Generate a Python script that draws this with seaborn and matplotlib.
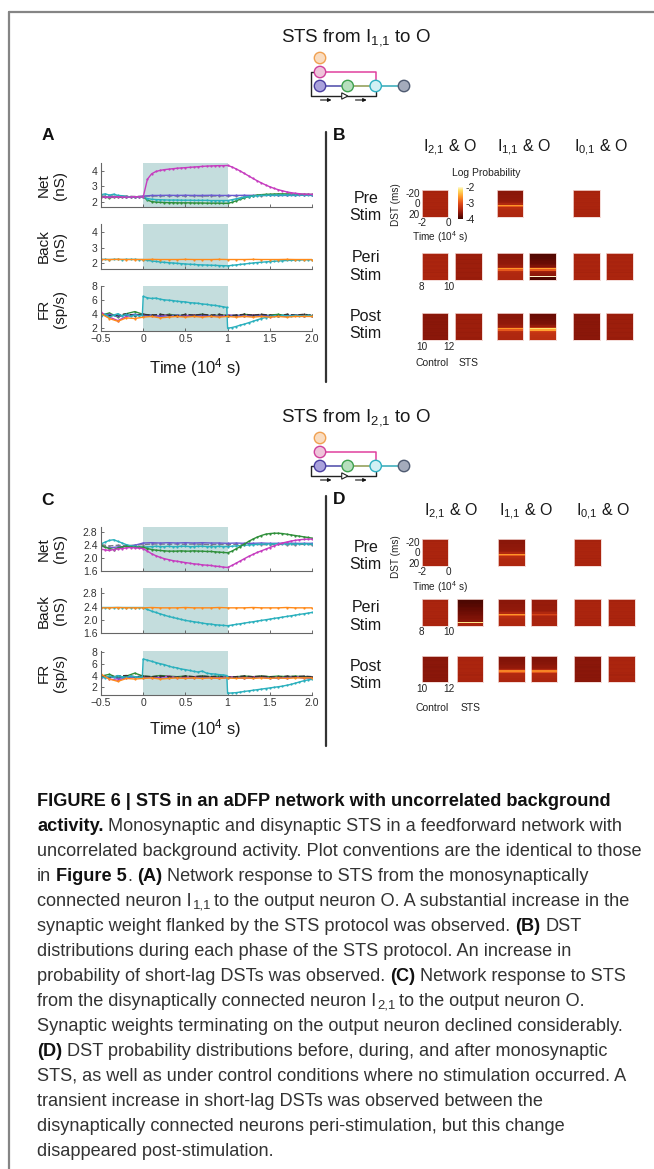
import numpy as np
import matplotlib
matplotlib.use("Agg")
import matplotlib.pyplot as plt
import seaborn as sns
from matplotlib import font_manager as fm
from matplotlib.colors import LinearSegmentedColormap, Normalize
from matplotlib.cm import ScalarMappable
from matplotlib.patches import Circle, Polygon
from matplotlib.lines import Line2D

sns.set_theme(style="white")
plt.rcParams["font.family"] = ["Liberation Sans", "DejaVu Sans"]
plt.rcParams["mathtext.fontset"] = "custom"
plt.rcParams["mathtext.rm"] = "Liberation Sans"
plt.rcParams["mathtext.it"] = "Liberation Sans:italic"
plt.rcParams["mathtext.bf"] = "Liberation Sans:bold"
_names = {f.name for f in fm.fontManager.ttflist}
CAP_FONT = "Liberation Sans Narrow" if "Liberation Sans Narrow" in _names else "Liberation Sans"

# ------------------------------------------------------------------ data
T_FINE = [round(-0.5 + 0.05 * i, 2) for i in range(51)]
T_COARSE = [round(-0.5 + 0.1 * i, 2) for i in range(26)]
T_JUMP = sorted(T_FINE + [-0.01, 0.99])
STIM_ON, STIM_OFF = 0.0, 1.0
XTICKS = [-0.5, 0, 0.5, 1, 1.5, 2.0]
XTICKLABELS = ["\u22120.5", "0", "0.5", "1", "1.5", "2.0"]

# ---- Panel A (STS from I1,1 to O)
A_NET_MAGENTA = [2.28, 2.3, 2.27, 2.3, 2.32, 2.3, 2.28, 2.3, 2.32, 2.31,
                 2.3,
                 3.45, 3.8, 3.95, 4.02, 4.07, 4.1, 4.13, 4.16, 4.18, 4.2,
                 4.22, 4.24, 4.26, 4.28, 4.3, 4.31, 4.32, 4.33, 4.33, 4.34,
                 4.25, 4.12, 3.98, 3.82, 3.66, 3.5, 3.35, 3.21, 3.08, 2.96,
                 2.86, 2.77, 2.7, 2.63, 2.58, 2.54, 2.51, 2.49, 2.48, 2.47]
A_NET_GREEN = [2.3, 2.28, 2.25, 2.28, 2.3, 2.27, 2.3, 2.32, 2.3, 2.3,
               2.3,
               2.1, 2.0, 1.97, 1.95, 1.94, 1.93, 1.93, 1.92, 1.92, 1.92,
               1.92, 1.91, 1.91, 1.91, 1.9, 1.9, 1.9, 1.9, 1.89, 1.89,
               1.95, 2.05, 2.15, 2.25, 2.32, 2.38, 2.42, 2.45, 2.47, 2.48,
               2.49, 2.5, 2.5, 2.5, 2.49, 2.48, 2.48, 2.47, 2.47, 2.46]
A_NET_CYAN = [2.45, 2.5, 2.42, 2.48, 2.4, 2.38, 2.33, 2.3, 2.32, 2.3,
              2.3,
              2.2, 2.15, 2.13, 2.12, 2.11, 2.1, 2.1, 2.1, 2.09, 2.09,
              2.09, 2.08, 2.08, 2.08, 2.08, 2.07, 2.07, 2.07, 2.07, 2.07,
              2.12, 2.18, 2.24, 2.29, 2.33, 2.36, 2.38, 2.4, 2.41, 2.42,
              2.42, 2.43, 2.43, 2.43, 2.43, 2.43, 2.42, 2.42, 2.42, 2.42]
A_NET_PURPLE = [2.32, 2.3, 2.35, 2.3, 2.3, 2.35, 2.4, 2.4, 2.41, 2.4, 2.41, 2.4, 2.4,
                2.41, 2.4, 2.4, 2.4, 2.41, 2.4, 2.4, 2.41, 2.4, 2.4, 2.4, 2.41, 2.4]
A_NET_GRAY = [2.35, 2.38, 2.34, 2.36, 2.33, 2.35, 2.36, 2.36, 2.37, 2.36, 2.36, 2.37, 2.36,
              2.36, 2.37, 2.37, 2.38, 2.38, 2.39, 2.39, 2.4, 2.4, 2.41, 2.41, 2.42, 2.42]
A_BACK_ORANGE = [2.25, 2.25, 2.26, 2.25, 2.25, 2.25, 2.26, 2.25, 2.25, 2.25, 2.26, 2.25, 2.25,
                 2.25, 2.26, 2.25, 2.25, 2.25, 2.26, 2.25, 2.25, 2.25, 2.26, 2.25, 2.25, 2.25]
A_BACK_CYAN = [2.26, 2.26, 2.25, 2.26, 2.26, 2.25, 2.26, 2.26, 2.26, 2.25,
               2.25,
               2.2, 2.16, 2.13, 2.1, 2.07, 2.05, 2.03, 2.01, 1.99, 1.97,
               1.95, 1.94, 1.92, 1.91, 1.9, 1.89, 1.88, 1.87, 1.86, 1.85,
               1.88, 1.91, 1.94, 1.97, 2.0, 2.03, 2.06, 2.08, 2.1, 2.12,
               2.14, 2.16, 2.17, 2.19, 2.2, 2.21, 2.22, 2.23, 2.24, 2.24]
A_FR_CYAN = [3.6, 3.9, 3.5, 3.8, 4.0, 3.7, 3.9, 3.6, 3.8, 3.7,
             3.8,
             6.5,
             6.3, 6.2, 6.25, 6.1, 6.0, 5.95, 5.9, 5.8, 5.75, 5.7, 5.6, 5.55, 5.5, 5.4,
             5.35, 5.25, 5.2, 5.1, 5.0,
             4.9,
             1.9,
             2.0, 2.15, 2.35, 2.5, 2.7, 2.9, 3.1, 3.3, 3.45, 3.6,
             3.7, 3.6, 3.75, 3.7, 3.65, 3.75, 3.7, 3.65, 3.75, 3.7]
A_FR_GREEN = [3.8, 4.1, 3.5, 4.0, 4.3, 3.9, 3.8, 3.7, 3.9, 3.8, 3.7, 3.8, 3.9,
              3.7, 3.8, 3.8, 3.7, 3.9, 3.8, 3.7, 3.8, 3.9, 3.7, 3.8, 3.8, 3.7]
A_FR_MAGENTA = [4.2, 3.5, 3.0, 3.6, 3.8, 3.9, 3.6, 3.7, 3.8, 3.6, 3.7, 3.8, 3.6,
                3.7, 3.6, 3.8, 3.7, 3.6, 3.8, 3.7, 3.5, 3.7, 3.6, 3.8, 3.6, 3.7]
A_FR_PURPLE = [3.7, 3.9, 3.6, 3.8, 3.9, 3.7, 3.8, 3.6, 3.7, 3.8, 3.6, 3.7, 3.8,
               3.7, 3.6, 3.7, 3.8, 3.6, 3.7, 3.8, 3.7, 3.6, 3.7, 3.8, 3.7, 3.6]
A_FR_BLACK = [3.9, 3.7, 3.8, 4.0, 3.7, 3.9, 3.8, 3.9, 3.8, 3.7, 3.9, 3.8, 3.9,
              3.8, 3.9, 3.7, 3.8, 3.9, 3.8, 3.9, 3.8, 3.7, 3.9, 3.8, 3.9, 3.8]
A_FR_ORANGE = [4.0, 3.3, 2.9, 3.4, 3.3, 3.5, 3.6, 3.4, 3.5, 3.6, 3.5, 3.6, 3.5,
               3.6, 3.5, 3.6, 3.5, 3.6, 3.5, 3.6, 3.5, 3.6, 3.5, 3.6, 3.6, 3.6]

# ---- Panel C (STS from I2,1 to O)
C_NET_MAGENTA = [2.26, 2.24, 2.22, 2.25, 2.27, 2.28, 2.3, 2.31, 2.3, 2.29,
                 2.28,
                 2.2, 2.12, 2.06, 2.01, 1.97, 1.94, 1.91, 1.89, 1.87, 1.85,
                 1.83, 1.81, 1.8, 1.78, 1.77, 1.76, 1.74, 1.73, 1.71, 1.7,
                 1.76, 1.83, 1.9, 1.97, 2.04, 2.1, 2.16, 2.21, 2.26, 2.31,
                 2.36, 2.41, 2.45, 2.48, 2.51, 2.53, 2.55, 2.56, 2.57, 2.57]
C_NET_GREEN = [2.38, 2.32, 2.28, 2.25, 2.3, 2.33, 2.35, 2.33, 2.32, 2.32,
               2.32,
               2.28, 2.25, 2.23, 2.22, 2.21, 2.2, 2.2, 2.2, 2.21, 2.2,
               2.2, 2.21, 2.2, 2.2, 2.19, 2.19, 2.18, 2.17, 2.16, 2.15,
               2.2, 2.27, 2.34, 2.42, 2.5, 2.57, 2.63, 2.68, 2.72, 2.74,
               2.75, 2.75, 2.74, 2.72, 2.7, 2.68, 2.66, 2.64, 2.62, 2.6]
C_NET_CYAN = [2.42, 2.48, 2.53, 2.55, 2.5, 2.45, 2.4, 2.37, 2.35, 2.33,
              2.33,
              2.33, 2.34, 2.35, 2.34, 2.34, 2.35, 2.34, 2.34, 2.35, 2.35,
              2.34, 2.34, 2.35, 2.35, 2.34, 2.34, 2.34, 2.35, 2.34, 2.34,
              2.35, 2.36, 2.37, 2.38, 2.39, 2.4, 2.41, 2.41, 2.42, 2.42,
              2.43, 2.43, 2.42, 2.42, 2.43, 2.42, 2.42, 2.43, 2.42, 2.42]
C_NET_PURPLE = [2.35, 2.3, 2.33, 2.35, 2.38, 2.45, 2.46, 2.45, 2.46, 2.45, 2.46, 2.45, 2.46,
                2.45, 2.45, 2.44, 2.45, 2.44, 2.44, 2.45, 2.44, 2.44, 2.45, 2.44, 2.44, 2.44]
C_NET_GRAY = [2.4, 2.36, 2.38, 2.37, 2.38, 2.4, 2.42, 2.42, 2.41, 2.42, 2.41, 2.42, 2.41,
              2.4, 2.41, 2.4, 2.41, 2.4, 2.41, 2.4, 2.4, 2.41, 2.4, 2.4, 2.41, 2.4]
C_BACK_ORANGE = [2.36, 2.36, 2.37, 2.36, 2.36, 2.36, 2.37, 2.36, 2.36, 2.36, 2.37, 2.36, 2.36,
                 2.36, 2.37, 2.36, 2.36, 2.36, 2.37, 2.36, 2.36, 2.36, 2.37, 2.36, 2.36, 2.36]
C_BACK_CYAN = [2.37, 2.37, 2.37, 2.37, 2.37, 2.37, 2.37, 2.37, 2.37, 2.37,
               2.37,
               2.31, 2.26, 2.22, 2.18, 2.14, 2.1, 2.07, 2.04, 2.01, 1.98,
               1.96, 1.94, 1.92, 1.9, 1.88, 1.87, 1.85, 1.84, 1.83, 1.82,
               1.84, 1.86, 1.88, 1.9, 1.92, 1.94, 1.96, 1.98, 2.0, 2.02,
               2.04, 2.06, 2.08, 2.1, 2.12, 2.14, 2.16, 2.18, 2.2, 2.22]
C_FR_CYAN = [3.8, 3.6, 3.9, 3.7, 4.0, 3.8, 3.7, 3.9, 3.8, 3.7,
             3.8,
             6.8,
             6.6, 6.4, 6.2, 6.0, 5.85, 5.6, 5.4, 5.3, 5.1, 5.0, 4.85, 4.7, 4.6, 4.75,
             4.4, 4.3, 4.25, 4.15, 4.1,
             4.0,
             1.0,
             1.05, 1.1, 1.2, 1.3, 1.4, 1.5, 1.6, 1.7, 1.8, 1.9,
             2.0, 2.1, 2.2, 2.35, 2.5, 2.7, 2.9, 3.1, 3.25, 3.35]
C_FR_GREEN = [3.9, 4.2, 3.6, 3.9, 4.4, 3.9, 3.8, 4.0, 3.9, 3.8, 3.9, 3.8, 3.9,
              3.8, 3.9, 3.8, 3.8, 3.9, 3.8, 3.9, 3.8, 3.9, 3.8, 3.9, 3.8, 3.8]
C_FR_MAGENTA = [4.1, 3.4, 3.2, 3.6, 3.7, 3.8, 3.6, 3.7, 3.9, 3.6, 3.7, 3.8, 3.6,
                3.7, 3.6, 3.8, 3.7, 3.6, 3.8, 3.7, 3.5, 3.7, 3.6, 3.8, 3.6, 3.7]
C_FR_PURPLE = [3.6, 3.8, 3.5, 3.7, 3.8, 3.6, 3.7, 3.5, 3.6, 3.7, 3.5, 3.6, 3.7,
               3.6, 3.5, 3.6, 3.7, 3.5, 3.6, 3.7, 3.6, 3.5, 3.6, 3.7, 3.6, 3.5]
C_FR_BLACK = [3.9, 3.8, 3.9, 4.0, 3.8, 3.9, 3.8, 3.9, 3.8, 3.7, 3.9, 3.8, 3.9,
              3.8, 3.9, 3.7, 3.8, 3.9, 3.8, 3.9, 3.8, 3.7, 3.9, 3.8, 3.9, 3.8]
C_FR_ORANGE = [4.2, 3.4, 3.0, 3.5, 3.4, 3.5, 3.6, 3.4, 3.5, 3.6, 3.5, 3.6, 3.5,
               3.6, 3.5, 3.6, 3.5, 3.6, 3.5, 3.6, 3.5, 3.6, 3.5, 3.6, 3.6, 3.6]

# ---- DST log-probability profiles (20 DST bins, -25 ms at top -> +25 ms at bottom)
P_BASE = [-3.45, -3.47, -3.44, -3.46, -3.45, -3.44, -3.46, -3.45, -3.44, -3.46,
          -3.45, -3.44, -3.46, -3.45, -3.47, -3.44, -3.45, -3.46, -3.44, -3.45]
P_BASE_MID = [-3.53, -3.54, -3.52, -3.53, -3.54, -3.52, -3.53, -3.54, -3.53, -3.52,
              -3.53, -3.54, -3.52, -3.53, -3.54, -3.53, -3.52, -3.53, -3.54, -3.53]
P_BASE_DARK = [-3.62, -3.64, -3.61, -3.63, -3.62, -3.61, -3.63, -3.62, -3.64, -3.62,
               -3.61, -3.63, -3.62, -3.61, -3.63, -3.62, -3.64, -3.62, -3.61, -3.63]
P_STRIPE = [-3.62, -3.62, -3.61, -3.62, -3.6, -3.6, -3.59, -3.58, -3.56, -3.52,
            -3.4, -2.62, -2.95, -3.35, -3.38, -3.4, -3.4, -3.41, -3.42, -3.42]
P_B_PERI_STS = [-3.9, -3.89, -3.88, -3.87, -3.85, -3.83, -3.81, -3.79, -3.75, -3.68,
                -3.5, -2.55, -2.95, -3.5, -3.55, -3.58, -3.62, -2.05, -3.9, -3.93]
P_B_POST_STS = [-3.8, -3.79, -3.78, -3.77, -3.75, -3.73, -3.71, -3.69, -3.65, -3.56,
                -3.3, -2.2, -2.55, -3.15, -3.25, -3.28, -3.3, -3.3, -3.32, -3.32]
P_D_PERI_STS_I21 = [-3.93, -3.92, -3.91, -3.9, -3.88, -3.87, -3.85, -3.83, -3.81, -3.79,
                    -3.77, -3.75, -3.72, -3.7, -3.68, -3.66, -3.64, -2.15, -3.45, -3.45]
P_D_PERI_STS_I11 = [-3.55, -3.56, -3.54, -3.55, -3.56, -3.54, -3.55, -3.54, -3.55, -3.5,
                    -3.4, -3.12, -3.3, -3.45, -3.46, -3.45, -3.46, -3.45, -3.46, -3.45]
P_D_POST = [-3.68, -3.67, -3.66, -3.66, -3.65, -3.64, -3.62, -3.6, -3.58, -3.54,
            -3.4, -2.72, -2.98, -3.38, -3.4, -3.42, -3.42, -3.43, -3.44, -3.44]

# order of groups: I2,1 & O | I1,1 & O | I0,1 & O
B_PRE = [P_BASE, P_STRIPE, P_BASE]
B_PERI = [[P_BASE, P_BASE_MID], [P_STRIPE, P_B_PERI_STS], [P_BASE, P_BASE]]
B_POST = [[P_BASE_DARK, P_BASE_MID], [P_STRIPE, P_B_POST_STS], [P_BASE_DARK, P_BASE_MID]]
D_PRE = [P_BASE, P_STRIPE, P_BASE]
D_PERI = [[P_BASE, P_D_PERI_STS_I21], [P_STRIPE, P_D_PERI_STS_I11], [P_BASE, P_BASE]]
D_POST = [[P_BASE_DARK, P_BASE], [P_D_POST, P_D_POST], [P_BASE_DARK, P_BASE]]
GROUP_TITLES = [r"I$_{2{,}1}$ & O", r"I$_{1{,}1}$ & O", r"I$_{0{,}1}$ & O"]
ROW_TITLES = ["Pre\nStim", "Peri\nStim", "Post\nStim"]
TIME_TICKS = [["-2", "0"], ["8", "10"], ["10", "12"]]
DST_TICKS = ["-20", "0", "20"]
CBAR_TICKS = [-2, -3, -4]

CAPTION = [
    [("FIGURE 6 | STS in an aDFP network with uncorrelated background", "bold")],
    [("activity.", "bold"), (" Monosynaptic and disynaptic STS in a feedforward network with", "normal")],
    [("uncorrelated background activity. Plot conventions are the identical to those", "normal")],
    [("in ", "normal"), ("Figure 5", "bold"), (". ", "normal"), ("(A)", "bold"),
     (" Network response to STS from the monosynaptically", "normal")],
    [("connected neuron I", "normal"), ("1,1", "sub"),
     (" to the output neuron O. A substantial increase in the", "normal")],
    [("synaptic weight flanked by the STS protocol was observed. ", "normal"), ("(B)", "bold"), (" DST", "normal")],
    [("distributions during each phase of the STS protocol. An increase in", "normal")],
    [("probability of short-lag DSTs was observed. ", "normal"), ("(C)", "bold"),
     (" Network response to STS", "normal")],
    [("from the disynaptically connected neuron I", "normal"), ("2,1", "sub"),
     (" to the output neuron O.", "normal")],
    [("Synaptic weights terminating on the output neuron declined considerably.", "normal")],
    [("(D)", "bold"), (" DST probability distributions before, during, and after monosynaptic", "normal")],
    [("STS, as well as under control conditions where no stimulation occurred. A", "normal")],
    [("transient increase in short-lag DSTs was observed between the", "normal")],
    [("disynaptically connected neurons peri-stimulation, but this change", "normal")],
    [("disappeared post-stimulation.", "normal")],
]

# ------------------------------------------------------------------ style
MAGENTA, GREEN, CYAN = "#c63cbf", "#2f8f3a", "#2ab0bd"
PURPLE, GRAY, ORANGE, BLACK = "#6a5ad0", "#7a7a8a", "#ff8a1a", "#333333"
SHADE = "#c4dddd"
TXT = "#1a1a1a"
CMAP = LinearSegmentedColormap.from_list(
    "dst", [(0.0, "#3a0500"), (0.1, "#6a0c04"), (0.2, "#8e180a"), (0.275, "#aa240e"),
            (0.4, "#cc3a14"), (0.5, "#e2501a"), (0.7, "#ff9a2a"), (0.9, "#ffe26a"),
            (1.0, "#fffbe6")])
NORM = Normalize(vmin=-4, vmax=-2)

W, H = 654, 1169
fig = plt.figure(figsize=(W / 100, H / 100), dpi=100)
fig.patch.set_facecolor("white")


def rect(x0, y0, x1, y1):
    return [x0 / W, 1 - y1 / H, (x1 - x0) / W, (y1 - y0) / H]


ov = fig.add_axes([0, 0, 1, 1], zorder=5)
ov.set_xlim(0, W)
ov.set_ylim(H, 0)
ov.axis("off")

# frame
ov.add_line(Line2D([9, 9], [12, H], color="#858585", lw=1.6))
ov.add_line(Line2D([9, W], [12, 12], color="#858585", lw=1.6))


# ------------------------------------------------------------------ diagrams
def diagram(ty, title, loop_from_pink):
    ov.text(355.7, ty, title, ha="center", va="center", fontsize=13.5, color=TXT)
    yo, yp, yr, yb, ya = ty + 20, ty + 34, ty + 48, ty + 58, ty + 62
    r = 5.7
    ov.add_line(Line2D([320 + r, 375.7, 375.7], [yp, yp, yr - r], color="#e0409e", lw=1.1, zorder=1))
    ov.add_line(Line2D([320 + r, 347.7 - r], [yr, yr], color="#4a48a8", lw=1.1, zorder=1))
    ov.add_line(Line2D([347.7 + r, 375.7 - r], [yr, yr], color="#8c9a50", lw=1.1, zorder=1))
    ov.add_line(Line2D([375.7 + r, 404 - r], [yr, yr], color="#30a8b8", lw=1.1, zorder=1))
    ys = yp if loop_from_pink else yr
    ov.add_line(Line2D([320 - r, 310.7, 310.7, 375.7, 375.7], [ys, ys, yb, yb, yr + r],
                       color="#222222", lw=1.0, zorder=1))
    for cx, cy, fc, ec in [(320, yo, "#f9dcc0", "#f0a050"), (320, yp, "#eec4da", "#d0409c"),
                           (320, yr, "#aaa2dc", "#4a3ea0"), (347.7, yr, "#b6dfbd", "#3ea04e"),
                           (375.7, yr, "#d2f0f4", "#2eb0c2"), (404, yr, "#a4abbb", "#4e5a70")]:
        ov.add_patch(Circle((cx, cy), r, facecolor=fc, edgecolor=ec, lw=1.0, zorder=2))
    ov.add_patch(Polygon([[341.7, yb - 3.2], [341.7, yb + 3.2], [347.8, yb]], closed=True,
                         facecolor="white", edgecolor="#222222", lw=0.8, zorder=3))
    for x0, x1 in [(320.5, 331.5), (355.5, 366.7)]:
        ov.annotate("", xy=(x1, ya), xytext=(x0, ya),
                    arrowprops=dict(arrowstyle="-|>", color="#111111", lw=0.8, mutation_scale=5,
                                    shrinkA=0, shrinkB=0))


diagram(38, r"STS from I$_{1{,}1}$ to O", True)
diagram(418, r"STS from I$_{2{,}1}$ to O", False)


# ------------------------------------------------------------------ line panels
def line_axes(y0, y1, series, ylim, yticks, yticklabels, show_x):
    ax = fig.add_axes(rect(101, y0, 312, y1))
    ax.axvspan(STIM_ON, STIM_OFF, color=SHADE, lw=0, zorder=0)
    for t, v, c, ls in series:
        sns.lineplot(x=t, y=v, ax=ax, color=c, linestyle=ls, linewidth=1.0, marker=".",
                     markersize=3.2, markeredgewidth=0, markeredgecolor=c,
                     estimator=None, sort=False, legend=False)
    ax.set_xlim(-0.5, 2.0)
    ax.set_ylim(*ylim)
    ax.set_xticks(XTICKS)
    ax.set_xticklabels(XTICKLABELS if show_x else [])
    ax.set_yticks(yticks)
    ax.set_yticklabels(yticklabels)
    ax.set_xlabel("")
    ax.set_ylabel("")
    ax.tick_params(direction="in", length=2.2, width=0.6, labelsize=7.5, pad=2.5,
                   colors="#555555", labelcolor="#333333", bottom=True, left=True)
    for s in ["top", "right"]:
        ax.spines[s].set_visible(False)
    for s in ["left", "bottom"]:
        ax.spines[s].set_color("#666666")
        ax.spines[s].set_linewidth(0.8)
    ax.set_facecolor("white")
    return ax


def fr_series(cyan, green, magenta, purple, black, orange):
    return [(T_COARSE, green, GREEN, "-"), (T_COARSE, magenta, MAGENTA, "-"),
            (T_COARSE, purple, PURPLE, "-"), (T_COARSE, black, BLACK, "--"),
            (T_JUMP, cyan, CYAN, "-"), (T_COARSE, orange, ORANGE, "-")]


# Panel A
line_axes(163, 207, [(T_COARSE, A_NET_GRAY, GRAY, "--"), (T_COARSE, A_NET_PURPLE, PURPLE, "-"),
                     (T_FINE, A_NET_GREEN, GREEN, "-"), (T_FINE, A_NET_CYAN, CYAN, "-"),
                     (T_FINE, A_NET_MAGENTA, MAGENTA, "-")],
          (1.65, 4.5), [2, 3, 4], ["2", "3", "4"], False)
line_axes(224, 269, [(T_FINE, A_BACK_CYAN, CYAN, "-"), (T_COARSE, A_BACK_ORANGE, ORANGE, "-")],
          (1.65, 4.5), [2, 3, 4], ["2", "3", "4"], False)
line_axes(286, 331, fr_series(A_FR_CYAN, A_FR_GREEN, A_FR_MAGENTA, A_FR_PURPLE, A_FR_BLACK, A_FR_ORANGE),
          (1.5, 8.0), [2, 4, 6, 8], ["2", "4", "6", "8"], True)
# Panel C
line_axes(526.7, 570.7, [(T_COARSE, C_NET_GRAY, GRAY, "--"), (T_COARSE, C_NET_PURPLE, PURPLE, "-"),
                         (T_FINE, C_NET_CYAN, CYAN, "-"), (T_FINE, C_NET_GREEN, GREEN, "-"),
                         (T_FINE, C_NET_MAGENTA, MAGENTA, "-")],
          (1.6, 2.95), [1.6, 2.0, 2.4, 2.8], ["1.6", "2.0", "2.4", "2.8"], False)
line_axes(588.3, 633, [(T_FINE, C_BACK_CYAN, CYAN, "-"), (T_COARSE, C_BACK_ORANGE, ORANGE, "-")],
          (1.6, 2.95), [1.6, 2.0, 2.4, 2.8], ["1.6", "2.0", "2.4", "2.8"], False)
line_axes(650.7, 695, fr_series(C_FR_CYAN, C_FR_GREEN, C_FR_MAGENTA, C_FR_PURPLE, C_FR_BLACK, C_FR_ORANGE),
          (0.7, 8.2), [2, 4, 6, 8], ["2", "4", "6", "8"], True)

for yc, lab in [(185, "Net\n(nS)"), (246.5, "Back\n(nS)"), (308.5, "FR\n(sp/s)"),
                (548.7, "Net\n(nS)"), (610.7, "Back\n(nS)"), (672.9, "FR\n(sp/s)")]:
    ov.text(52, yc, lab, rotation=90, ha="center", va="center", multialignment="center",
            fontsize=11, linespacing=1.25, color=TXT)
ov.text(195.5, 368, "Time (10$^{4}$ s)", ha="center", va="center", fontsize=12, color=TXT)
ov.text(195.5, 729, "Time (10$^{4}$ s)", ha="center", va="center", fontsize=12, color=TXT)

# panel letters
for x, y, s in [(48, 136, "A"), (339, 135, "B"), (48, 500.8, "C"), (339, 499.5, "D")]:
    ov.text(x, y, s, ha="center", va="center", fontsize=12.5, fontweight="bold", color="#111111")

# separators
ov.add_line(Line2D([325.5, 325.5], [132, 382], color="#333333", lw=1.6))
ov.add_line(Line2D([325.5, 325.5], [496, 746], color="#333333", lw=1.6))


# ------------------------------------------------------------------ heatmaps
def heat(x0, y0, prof, row_idx, labelled):
    s = 26.7
    ax = fig.add_axes(rect(x0, y0, x0 + s, y0 + s))
    sns.heatmap(np.array(prof)[:, None], ax=ax, cmap=CMAP, vmin=-4, vmax=-2, cbar=False,
                xticklabels=False, yticklabels=False)
    for sp in ax.spines.values():
        sp.set_visible(True)
        sp.set_color("#f2d6d2")
        sp.set_linewidth(0.6)
    if labelled:
        ax.set_xticks([0, 1])
        ax.set_xticklabels(TIME_TICKS[row_idx], fontsize=7.2, color="#222222")
        ax.tick_params(axis="x", length=0, pad=1.2)
        if row_idx == 0:
            ax.set_yticks([2, 10, 18])
            ax.set_yticklabels(DST_TICKS, fontsize=7.2, color="#222222", rotation=0)
            ax.tick_params(axis="y", length=0, pad=1.2)
    ax.set_xlabel("")
    ax.set_ylabel("")


def heat_panel(xs, ys, pre, peri, post, title_y, row_label_ys, foot_y, dst_y, time_y):
    for g in range(3):
        heat(xs[g][0], ys[0], pre[g], 0, g == 0)
        for c in range(2):
            heat(xs[g][c], ys[1], peri[g][c], 1, g == 0 and c == 0)
            heat(xs[g][c], ys[2], post[g][c], 2, g == 0 and c == 0)
        gx = (xs[g][0] + xs[g][1] + 26.7) / 2
        ov.text(gx - 2, title_y, GROUP_TITLES[g], ha="center", va="center", fontsize=11.5, color=TXT)
    for yy, lab in zip(row_label_ys, ROW_TITLES):
        ov.text(365.7, yy, lab, ha="center", va="center", multialignment="center",
                fontsize=11.5, linespacing=1.2, color=TXT)
    ov.text(395.7, dst_y, "DST (ms)", rotation=90, ha="center", va="center", fontsize=7.2, color="#222222")
    ov.text(440, time_y, "Time (10$^{4}$ s)", ha="center", va="center", fontsize=7.2, color="#222222")
    ov.text(xs[0][0] + 10, foot_y, "Control", ha="center", va="center", fontsize=7.5, color="#222222")
    ov.text(xs[0][1] + 14, foot_y, "STS", ha="center", va="center", fontsize=7.5, color="#222222")


heat_panel([[421.7, 455.0], [496.7, 529.0], [573.3, 606.0]], [190.0, 253.3, 313.3],
           B_PRE, B_PERI, B_POST, 148, [207, 266.7, 325], 362.7, 205, 236.7)
heat_panel([[421.7, 456.7], [498.3, 530.7], [574.3, 608.3]], [539.0, 599.0, 655.7],
           D_PRE, D_PERI, D_POST, 511.7, [555.8, 616.7, 675], 707.7, 556.7, 586.7)

# colorbar (panel B)
cax = fig.add_axes(rect(457.7, 186.7, 463.3, 219))
cb = fig.colorbar(ScalarMappable(norm=NORM, cmap=CMAP), cax=cax, ticks=CBAR_TICKS)
cb.ax.set_yticklabels([str(v) for v in CBAR_TICKS])
cb.ax.tick_params(labelsize=7.5, length=0, pad=1.5, labelcolor="#222222")
cb.outline.set_visible(False)
ov.text(486.7, 172.7, "Log Probability", ha="center", va="center", fontsize=7.5, color="#222222")

# ------------------------------------------------------------------ caption
renderer = fig.canvas.get_renderer()
FAM = [CAP_FONT, "DejaVu Sans"]


def measure(s, weight, size):
    t = ov.text(0, 0, s, fontsize=size, fontweight=weight, family=FAM)
    w = t.get_window_extent(renderer).width
    t.remove()
    return w


ref_w = measure(CAPTION[2][0][0], "normal", 12)
cap_size = 12 * 609.0 / ref_w
x_left, y_first, dy = 37.0, 800.0, 24.93
for i, line in enumerate(CAPTION):
    y = y_first + i * dy
    x = x_left
    for text, kind in line:
        weight = "bold" if kind == "bold" else "normal"
        size = cap_size * 0.72 if kind == "sub" else cap_size
        yy = y + 4.5 if kind == "sub" else y
        sp_w = measure("a a", weight, cap_size) - measure("aa", weight, cap_size)
        lead = len(text) - len(text.lstrip(" "))
        trail = len(text) - len(text.rstrip(" "))
        core = text.strip(" ")
        x += lead * sp_w
        if kind == "sub":
            x += 1.0
        t = ov.text(x, yy, core, ha="left", va="center_baseline", fontsize=size, fontweight=weight,
                    family=FAM, color="#111111" if kind == "bold" else "#333333")
        x += t.get_window_extent(renderer).width + trail * sp_w
        if kind == "sub":
            x -= 1.5

fig.savefig("out.png", dpi=100, facecolor="white")
